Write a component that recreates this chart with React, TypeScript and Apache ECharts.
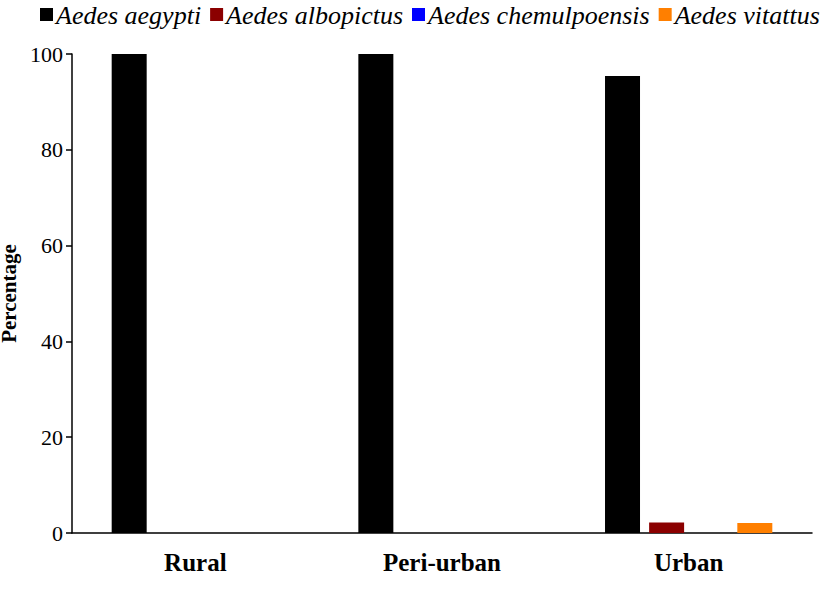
import React, { useEffect, useRef } from "react";
import * as echarts from "echarts";

const categories = ["Rural", "Peri-urban", "Urban"];
const seriesNames = ["Aedes aegypti", "Aedes albopictus", "Aedes chemulpoensis", "Aedes vitattus"];
const seriesColors = ["#000000", "#8B0000", "#0000FF", "#FF7F00"];
const aegypti = [100, 100, 95.4];
const albopictus = [0, 0, 2.2];
const chemulpoensis = [0, 0, 0];
const vitattus = [0, 0, 2.1];
const yTicks = { min: 0, max: 100, interval: 20 };

const FONT = "Liberation Serif";

export default function App() {
  const ref = useRef<HTMLDivElement>(null);
  useEffect(() => {
    if (!ref.current) return;
    const chart = echarts.init(ref.current, undefined, { renderer: "svg" });
    const mk = (i: number, data: number[]) => ({
      name: seriesNames[i],
      type: "bar",
      data,
      barWidth: 35,
      barGap: "26%",
      itemStyle: { color: seriesColors[i] },
    });

    const ctx = document.createElement("canvas").getContext("2d")!;
    let fs = 27;
    const measure = (size: number) => {
      ctx.font = `italic ${size}px ${FONT}`;
      return seriesNames.map((n) => ctx.measureText(n).width);
    };
    let widths = measure(fs);
    const total = (w: number[]) => w.reduce((a, b) => a + b, 0) + seriesNames.length * 25 - 9;
    while (40 + total(widths) > 820 && fs > 18) {
      fs -= 1;
      widths = measure(fs);
    }
    const legendEls: any[] = [];
    let x = 40;
    seriesNames.forEach((n, i) => {
      legendEls.push({
        type: "rect",
        shape: { x, y: 8, width: 13, height: 13 },
        style: { fill: seriesColors[i] },
      });
      legendEls.push({
        type: "text",
        x: x + 16,
        y: 2,
        style: {
          text: n,
          fontFamily: FONT,
          fontStyle: "italic",
          fontSize: fs,
          fill: "#000",
        },
      });
      x += 16 + widths[i] + 9;
    });

    chart.setOption({
      animation: false,
      legend: { show: false, data: seriesNames },
      graphic: legendEls,
      grid: { left: 72, right: 15, top: 54, bottom: 71, containLabel: false, outerBoundsMode: "none" },
      xAxis: {
        type: "category",
        data: categories,
        axisLine: { lineStyle: { color: "#000", width: 1.5 } },
        axisTick: { show: false },
        axisLabel: { fontFamily: FONT, fontWeight: "bold", fontSize: 25, color: "#000", margin: 17 },
      },
      yAxis: {
        type: "value",
        min: yTicks.min,
        max: yTicks.max,
        interval: yTicks.interval,
        name: "Percentage",
        nameLocation: "middle",
        nameGap: 39,
        nameTextStyle: { fontFamily: FONT, fontWeight: "bold", fontSize: 21, color: "#000" },
        axisLine: { show: true, lineStyle: { color: "#000", width: 1.5 } },
        axisTick: { show: true, length: 6, lineStyle: { color: "#000", width: 1.5 } },
        splitLine: { show: false },
        axisLabel: { fontFamily: FONT, fontSize: 22, color: "#000", margin: 9 },
      },
      series: [mk(0, aegypti), mk(1, albopictus), mk(2, chemulpoensis), mk(3, vitattus)],
    });
    return () => chart.dispose();
  }, []);
  return <div ref={ref} style={{ width: 827, height: 604, position: "absolute", left: 0, top: 0 }} />;
}
